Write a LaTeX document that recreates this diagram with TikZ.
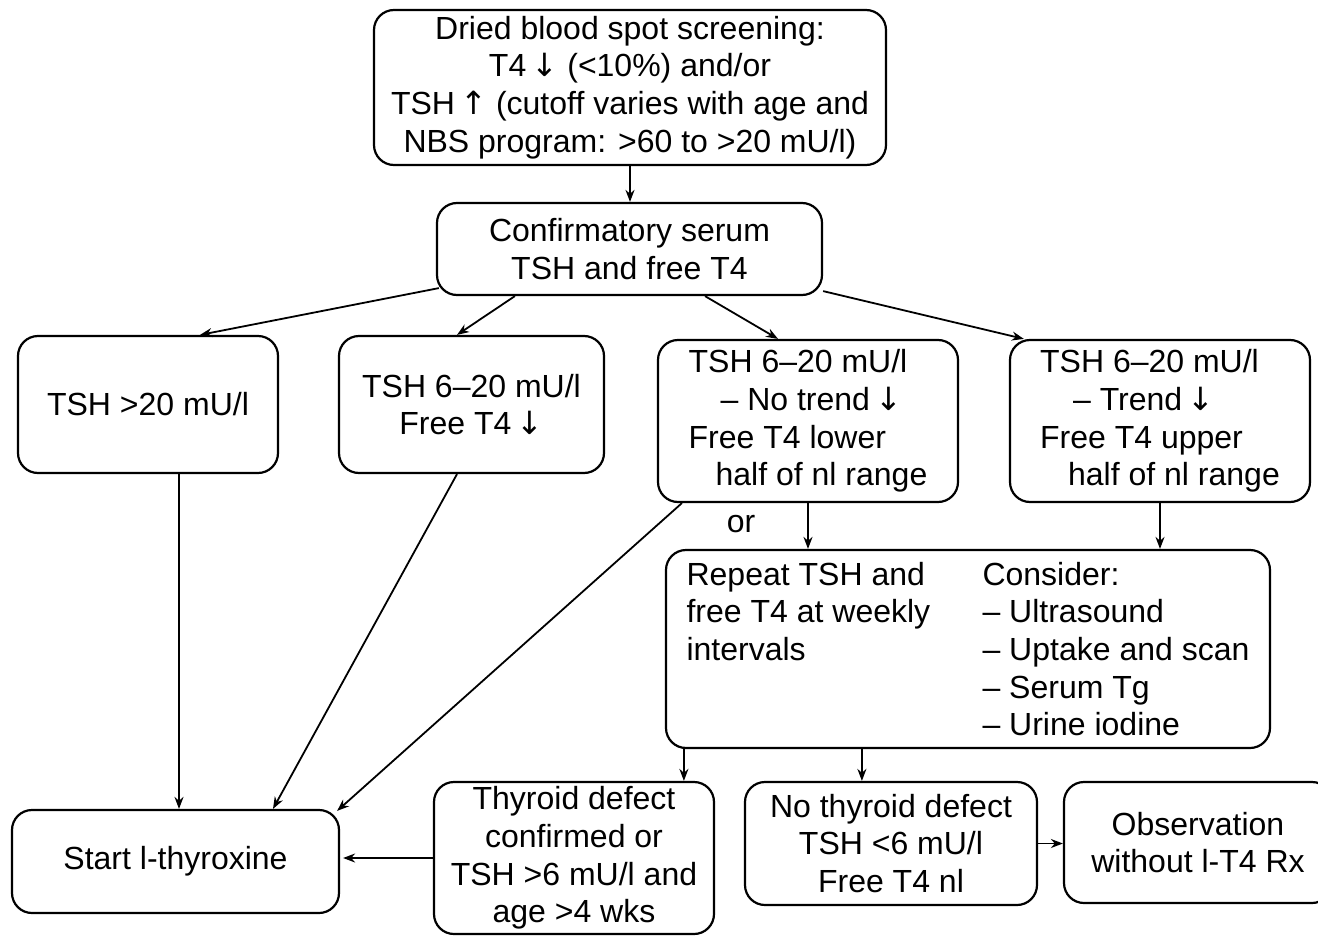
\documentclass[tikz,border=0pt]{standalone}
\usepackage{fontspec}
\setmainfont{Liberation Sans}
\newfontfamily\dv{DejaVu Sans}
\usetikzlibrary{arrows.meta,calc}
\newcommand{\fsz}{\fontsize{16}{18.85}\selectfont}
\newcommand{\dn}{\,{\dv ↓}}
\newcommand{\upa}{\,{\dv ↑}}
\begin{document}
\begin{tikzpicture}[x=0.5pt,y=-0.5pt,
  box/.style={draw, line width=1.1pt, rounded corners=10pt, align=center, inner sep=0pt, font=\fsz},
  sz/.style 2 args={minimum width=#1*0.5pt, minimum height=#2*0.5pt},
  arr/.style={-{Stealth[length=6pt,width=4.5pt]}, line width=0.9pt}]
\useasboundingbox (0,0) rectangle (1318,937);
\fill[white] (0,0) rectangle (1318,937);
\clip (0,0) rectangle (1318,937);

% nodes
\node[box,sz={512}{155}] (A) at (630,87.5) {Dried blood spot screening:\\T4\dn{} (<10\%) and/or\\TSH\upa{} (cutoff varies with age and\\NBS program: >60 to >20 mU/l)};
\node[box,sz={385}{92}] (B) at (629.5,249) {Confirmatory serum\\TSH and free T4};
\node[box,sz={260}{137}] (C1) at (148,404.5) {TSH >20 mU/l};
\node[box,sz={265}{137}] (C2) at (471.5,404.5) {TSH 6–20 mU/l\\Free T4\dn};
\node[box,sz={300}{162},align=left] (C3) at (808,421) {TSH 6–20 mU/l\\\hspace*{16pt}– No trend\dn\\Free T4 lower\\\hspace*{13.5pt}half of nl range};
\node[box,sz={300}{162},align=left] (C4) at (1160,421) {TSH 6–20 mU/l\\\hspace*{16.5pt}– Trend\dn\\Free T4 upper\\\hspace*{14pt}half of nl range};
\node[font=\fsz,inner sep=0pt] (or) at (741,524) {or};
\node[box,sz={604}{198},align=left] (D) at (968,649) {\makebox[148pt][l]{Repeat TSH and}Consider:\\
\makebox[148pt][l]{free T4 at weekly}– Ultrasound\\
\makebox[148pt][l]{intervals}– Uptake and scan\\
\hspace*{148pt}– Serum Tg\\
\hspace*{148pt}– Urine iodine};
\node[box,sz={327}{103}] (E1) at (175.5,861.5) {Start l-thyroxine};
\node[box,sz={280}{152}] (E2) at (574,858) {Thyroid defect\\confirmed or\\TSH >6 mU/l and\\age >4 wks};
\node[box,sz={292}{123}] (E3) at (891,843.5) {No thyroid defect\\TSH <6 mU/l\\Free T4 nl};
\node[box,sz={268}{121}] (E4) at (1198,842.5) {Observation\\without l-T4 Rx};

% connectors
\draw[arr] (A.south) -- (A.south |- B.north);
\draw[arr] ($(B.south west)+(3,-8)$) -- ($(C1.north)+(52,0)$);
\draw[arr] ($(B.south west)+(79,0)$) -- ($(C2.north)+(-14.5,0)$);
\draw[arr] ($(B.south)+(75.5,0)$) -- ($(C3.north)+(-30,0)$);
\draw[arr] ($(B.south east)+(0,-5)$) -- ($(C4.north west)+(15,0)$);
\draw[arr] ($(C1.south)+(31,0)$) coordinate (c1s) -- (c1s |- E1.north);
\draw[arr] ($(C2.south)+(-14.5,0)$) -- ($(E1.north)+(97.5,0)$);
\draw[arr] ($(C3.south west)+(25,0)$) -- ($(E1.north east)+(-3,2)$);
\draw[arr] (C3.south) -- (C3.south |- D.north);
\draw[arr] (C4.south) -- (C4.south |- D.north);
\draw[arr] ($(D.south west)+(19,0)$) coordinate (d1) -- (d1 |- E2.north);
\draw[arr] ($(D.south west)+(197,0)$) coordinate (d2) -- (d2 |- E3.north);
\draw[arr] (E2.west) -- ($(E2.west -| E1.east)+(3,0)$);
\draw[arr] (E3.east) -- (E3.east -| E4.west);
\end{tikzpicture}
\end{document}
